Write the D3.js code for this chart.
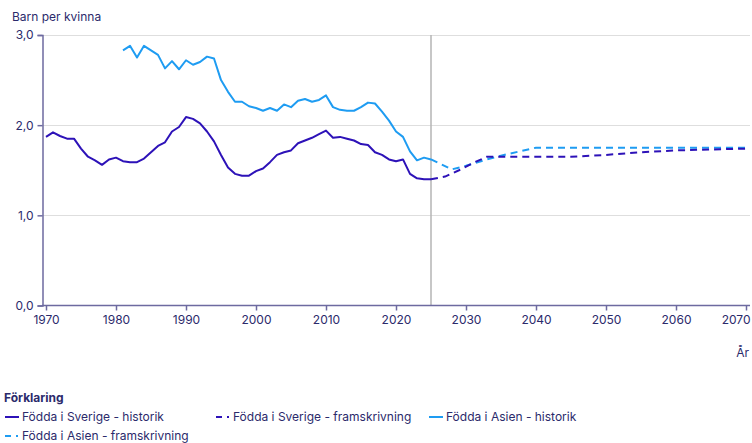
<!DOCTYPE html>
<html>
<head>
<meta charset="utf-8">
<style>
  body { margin: 0; background: #fff; }
  svg { font-family: Inter, "Noto Sans", sans-serif; }
</style>
</head>
<body>
<svg width="752" height="443"></svg>
<script src="https://d3js.org/d3.v7.min.js"></script>
<script>
// Födda i Sverige - historik
var sweYears = [1970,1971,1972,1973,1974,1975,1976,1977,1978,1979,1980,1981,1982,1983,1984,1985,1986,1987,1988,1989,
  1990,1991,1992,1993,1994,1995,1996,1997,1998,1999,2000,2001,2002,2003,2004,2005,2006,2007,2008,2009,
  2010,2011,2012,2013,2014,2015,2016,2017,2018,2019,2020,2021,2022,2023,2024,2025];
var sweHist = [1.87,1.92,1.88,1.85,1.85,1.74,1.65,1.61,1.56,1.62,1.64,1.60,1.59,1.59,1.63,1.70,1.77,1.81,1.93,1.98,
  2.09,2.07,2.02,1.93,1.82,1.67,1.53,1.46,1.44,1.44,1.49,1.52,1.59,1.67,1.70,1.72,1.80,1.83,1.86,1.90,
  1.94,1.86,1.87,1.85,1.83,1.79,1.78,1.70,1.67,1.62,1.60,1.62,1.46,1.41,1.40,1.40];

// Födda i Asien - historik
var asiaYears = [1981,1982,1983,1984,1985,1986,1987,1988,1989,1990,1991,1992,1993,1994,1995,1996,1997,1998,1999,
  2000,2001,2002,2003,2004,2005,2006,2007,2008,2009,2010,2011,2012,2013,2014,2015,2016,2017,2018,2019,
  2020,2021,2022,2023,2024,2025];
var asiaHist = [2.83,2.88,2.75,2.88,2.83,2.78,2.63,2.71,2.62,2.72,2.67,2.70,2.76,2.74,2.50,2.37,2.26,2.26,2.21,
  2.19,2.16,2.19,2.16,2.23,2.20,2.27,2.29,2.26,2.28,2.33,2.20,2.17,2.16,2.16,2.20,2.25,2.24,2.15,2.05,
  1.93,1.87,1.71,1.61,1.64,1.62];

// framskrivning
var sweProjYears = [2025,2027,2029,2031,2033,2035,2040,2045,2050,2055,2060,2065,2070];
var sweProj = [1.40,1.43,1.50,1.58,1.65,1.65,1.65,1.65,1.67,1.70,1.72,1.73,1.74];
var asiaProjYears = [2025,2028,2030,2033,2036,2040,2045,2050,2055,2060,2065,2070];
var asiaProj = [1.62,1.51,1.55,1.62,1.68,1.75,1.75,1.75,1.75,1.75,1.75,1.75];

var xTicks = [1970,1980,1990,2000,2010,2020,2030,2040,2050,2060,2070];
var yTicks = [0,1,2,3];
var cutYear = 2025;

var cSwe = "#2d12b8", cAsia = "#1e9cf2", cText = "#2b2a6b", cAxis = "#6d6aa0";

var svg = d3.select("svg");
var x = d3.scaleLinear().domain([1969.5, 2071]).range([42.5, 753]);
var y = d3.scaleLinear().domain([0, 3]).range([305.5, 35]);

// gridlines
svg.append("g").selectAll("line").data(yTicks.slice(1)).join("line")
  .attr("x1", 42).attr("x2", 750)
  .attr("y1", function(d) { return Math.round(y(d)) + 0.5; })
  .attr("y2", function(d) { return Math.round(y(d)) + 0.5; })
  .attr("stroke", "#dedede").attr("stroke-width", 1);

// vertical separator
svg.append("line")
  .attr("x1", x(cutYear)).attr("x2", x(cutYear))
  .attr("y1", y(3)).attr("y2", y(0))
  .attr("stroke", "#b4b4b4").attr("stroke-width", 1.5);

// axes
var yAxis = svg.append("g").attr("transform", "translate(42.5,0)")
  .call(d3.axisLeft(y).tickValues(yTicks).tickSize(5).tickPadding(4)
    .tickFormat(function(d) { return d3.format(".1f")(d).replace(".", ","); }));
var xAxis = svg.append("g").attr("transform", "translate(0," + y(0) + ")")
  .call(d3.axisBottom(x).tickValues(xTicks).tickSize(5).tickPadding(5).tickFormat(d3.format("d")));
[xAxis, yAxis].forEach(function(a) {
  a.select(".domain").attr("stroke", cAxis).attr("stroke-width", 1.5);
  a.selectAll(".tick line").attr("stroke", cAxis).attr("stroke-width", 1.5);
  a.selectAll(".tick text").attr("fill", cText).style("font-size", "12px").style("font-family", "Inter, sans-serif");
});
xAxis.select(".domain").attr("d", "M42,0H750");
// keep last label inside the frame
xAxis.selectAll(".tick").filter(function(d) { return d === 2070; }).select("text")
  .attr("text-anchor", "end").attr("x", 750 - x(2070));

svg.append("text").attr("x", 12).attr("y", 21).attr("fill", cText)
  .style("font-size", "12px").text("Barn per kvinna");
svg.append("text").attr("x", 749).attr("y", 357).attr("text-anchor", "end").attr("fill", cText)
  .style("font-size", "12px").text("År");

var line = d3.line()
  .x(function(d) { return x(d[0]); })
  .y(function(d) { return y(d[1]); });

function draw(years, vals, color, dash) {
  svg.append("path")
    .datum(d3.zip(years, vals))
    .attr("fill", "none")
    .attr("stroke", color)
    .attr("stroke-width", 2)
    .attr("stroke-linejoin", "round")
    .attr("stroke-dasharray", dash)
    .attr("d", line);
}
draw(asiaYears, asiaHist, cAsia, null);
draw(sweYears, sweHist, cSwe, null);
draw(asiaProjYears, asiaProj, cAsia, "7,5");
draw(sweProjYears, sweProj, cSwe, "7,5");

// legend
var lg = svg.append("g");
lg.append("text").attr("x", 4).attr("y", 402).attr("fill", cText)
  .style("font-size", "12px").style("font-weight", "bold").text("Förklaring");
var items = [
  {label: "Födda i Sverige - historik", color: cSwe, dash: false, x: 4, y: 421},
  {label: "Födda i Sverige - framskrivning", color: cSwe, dash: true, x: 215, y: 421},
  {label: "Födda i Asien - historik", color: cAsia, dash: false, x: 428, y: 421},
  {label: "Födda i Asien - framskrivning", color: cAsia, dash: true, x: 4, y: 440}
];
items.forEach(function(it) {
  if (it.dash) {
    lg.append("line").attr("x1", it.x + 1).attr("x2", it.x + 7).attr("y1", it.y - 4).attr("y2", it.y - 4)
      .attr("stroke", it.color).attr("stroke-width", 2);
    lg.append("line").attr("x1", it.x + 12).attr("x2", it.x + 14).attr("y1", it.y - 4).attr("y2", it.y - 4)
      .attr("stroke", it.color).attr("stroke-width", 2);
  } else {
    lg.append("line").attr("x1", it.x + 1).attr("x2", it.x + 15).attr("y1", it.y - 4).attr("y2", it.y - 4)
      .attr("stroke", it.color).attr("stroke-width", 2);
  }
  lg.append("text").attr("x", it.x + 18).attr("y", it.y).attr("fill", cText)
    .style("font-size", "12px").text(it.label);
});
</script>
</body>
</html>
